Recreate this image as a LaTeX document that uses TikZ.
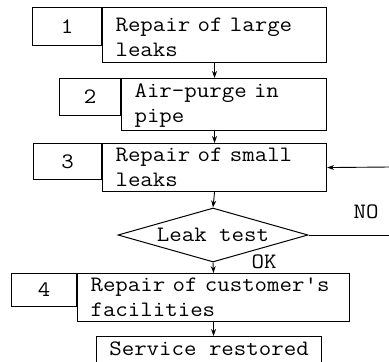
\documentclass[tikz,border=0pt]{standalone}
\usepackage{fontspec}
\setmonofont[FakeStretch=1.1]{Latin Modern Mono}
\usetikzlibrary{arrows.meta,shapes.geometric}
\newcommand\lift[1]{\rule{0pt}{#1pt}}

\begin{document}
\begin{tikzpicture}[x=1pt,y=-1pt,
  every node/.style={font=\ttfamily\fontsize{22}{25}\selectfont},
  numbox/.style={draw,line width=1pt,anchor=north east,inner sep=0pt},
  txtbox/.style={draw,line width=1.1pt,anchor=north west,inner xsep=13pt,inner ysep=0pt,align=left},
  flow/.style={line width=0.9pt,-{Stealth[length=7pt,width=5pt]}}]
  \useasboundingbox (0,0) rectangle (389,362);
  \clip (0,0) rectangle (389,362);
  % steps
  \node[txtbox,text width=198pt,minimum height=55pt] (t1) at (102,7) {\lift{19}Repair of large\\leaks};
  \node[numbox,minimum width=69pt,minimum height=38pt] (n1) at (t1.north west) {1};
  \node[txtbox,text width=179pt,minimum height=52pt] (t2) at (121,78) {\lift{16}Air-purge in\\pipe};
  \node[numbox,minimum width=61pt,minimum height=37pt] (n2) at (t2.north west) {2};
  \node[txtbox,text width=198pt,minimum height=48pt] (t3) at (102,143) {Repair of small\\leaks};
  \node[numbox,minimum width=68pt,minimum height=36pt] (n3) at (t3.north west) {3};
  \node[draw,diamond,aspect=3.5,line width=1pt,inner sep=0pt,minimum width=190pt,minimum height=54pt] (test) at (213,235) {Leak test};
  \node[txtbox,text width=246pt,minimum height=48pt] (t4) at (77,273) {\mbox{Repair of customer's}\\facilities};
  \node[numbox,minimum width=65pt,minimum height=33pt] (n4) at (t4.north west) {4};
  \node[draw,line width=1.1pt,anchor=north west,inner xsep=11pt,inner ysep=4pt,text height=15pt,text depth=20pt,minimum width=225pt] (sr) at (96,336) {Service restored};
  % labels
  \node (no) at (366,212) {NO};
  \node (ok) at (264,262) {OK};
  % connectors
  \coordinate (noend) at (390,235);
  \coordinate (nostart) at (390,167);
  \draw[flow] (t1.south) -- (t1.south |- t2.north);
  \draw[flow] (t2.south -| t1.south) -- (t1.south |- t3.north);
  \draw[flow] (t3.south) -- (test.north);
  \draw[line width=0.9pt] (test.east) -- (noend);
  \draw[flow] (nostart) -- (t3.east);
  \draw[flow] (test.south) -- (t4.north);
  \draw[flow] (t4.south) -- (t4.south |- sr.north);
\end{tikzpicture}
\end{document}
